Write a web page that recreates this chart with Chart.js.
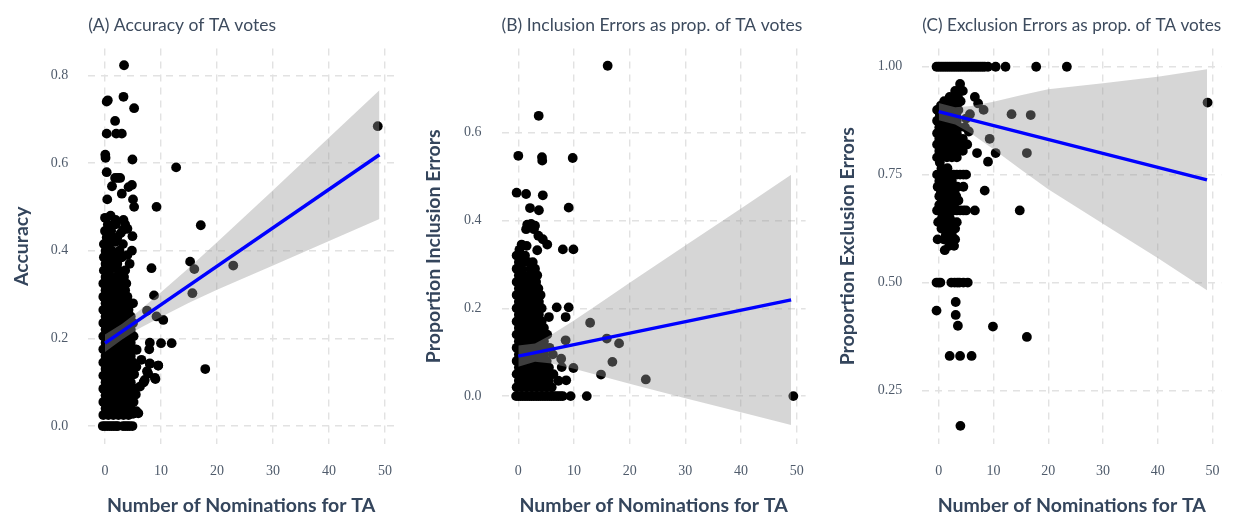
<!DOCTYPE html>
<html>
<head>
<meta charset="utf-8">
<title>TA votes</title>
<script src="https://cdn.jsdelivr.net/npm/chart.js@4.4.1/dist/chart.umd.min.js"></script>
<style>
  html, body { margin: 0; padding: 0; background: #fff; }
  #wrap { position: relative; width: 1239px; height: 518px; }
  .panel { position: absolute; top: 0; width: 413px; height: 518px; }
</style>
</head>
<body>
<div id="wrap">
  <div class="panel" style="left:0px"><canvas id="chartA" width="413" height="518"></canvas></div>
  <div class="panel" style="left:413px"><canvas id="chartB" width="413" height="518"></canvas></div>
  <div class="panel" style="left:826px"><canvas id="chartC" width="413" height="518"></canvas></div>
</div>
<script>
// ticks
const xTicks = [0, 10, 20, 30, 40, 50];
const accuracyTicks = [0, 0.2, 0.4, 0.6, 0.8];
const inclusionTicks = [0, 0.2, 0.4, 0.6];
const exclusionTicks = [0.25, 0.5, 0.75, 1.0];

// fitted lines (lm) and their confidence bands
const fitX = [0, 49];
const accuracyFit = [0.189, 0.619];
const inclusionFit = [0.091, 0.219];
const exclusionFit = [0.896, 0.738];

const bandX = [0, 3, 6, 10, 15, 20, 30, 40, 49];
const accuracyUpper = [0.209, 0.233, 0.262, 0.305, 0.361, 0.419, 0.538, 0.658, 0.766];
const accuracyLower = [0.169, 0.197, 0.222, 0.249, 0.281, 0.311, 0.366, 0.422, 0.472];
const inclusionUpper = [0.115, 0.120, 0.140, 0.172, 0.215, 0.258, 0.343, 0.427, 0.504];
const inclusionLower = [0.067, 0.078, 0.074, 0.062, 0.045, 0.028, -0.005, -0.037, -0.066];
const exclusionUpper = [0.916, 0.906, 0.909, 0.919, 0.934, 0.948, 0.962, 0.977, 0.994];
const exclusionLower = [0.876, 0.866, 0.845, 0.809, 0.762, 0.716, 0.636, 0.557, 0.482];

// points: [nominations (jittered), value]
const accuracyPts = [
  [-0.4,0],[0,0],[0.4,0],[0.8,0],[1.2,0],[1.6,0],[2.0,0],[2.3,0],[3.2,0],[3.6,0],[4.0,0],[4.4,0],[4.9,0],
  [-0.3,0.025],[0.6,0.025],[1.5,0.025],[2.4,0.025],[3.3,0.025],[4.2,0.025],[5.0,0.028],[5.6,0.034],[5.95,0.029],
  [0.1,0.04],[1.0,0.04],[1.9,0.04],[2.8,0.04],[3.7,0.04],[4.6,0.04],
  [-0.3,0.055],[0.6,0.055],[1.5,0.055],[2.4,0.055],[3.3,0.055],[4.2,0.055],[5.1,0.055],
  [0.1,0.07],[1.0,0.07],[1.9,0.07],[2.8,0.07],[3.7,0.07],[4.6,0.07],[5.5,0.072],
  [-0.3,0.085],[0.6,0.085],[1.5,0.085],[2.4,0.085],[3.3,0.085],[4.2,0.085],[5.4,0.085],[6.25,0.09],
  [0.1,0.1],[1.0,0.1],[1.9,0.1],[2.8,0.1],[3.7,0.1],[4.6,0.1],[6.9,0.1],
  [-0.3,0.115],[0.6,0.115],[1.5,0.115],[2.4,0.115],[3.3,0.115],[4.2,0.115],[5.2,0.118],[7.1,0.105],[8.9,0.11],
  [0.1,0.13],[1.0,0.13],[1.9,0.13],[2.8,0.13],[3.7,0.13],[4.6,0.13],[5.6,0.135],[7.7,0.12],[7.5,0.125],
  [-0.3,0.145],[0.6,0.145],[1.5,0.145],[2.4,0.145],[3.3,0.145],[4.2,0.145],[5.0,0.145],[6.5,0.151],[8.0,0.143],[9.5,0.138],[9.0,0.107],
  [0.1,0.16],[1.0,0.16],[1.9,0.16],[2.8,0.16],[3.7,0.16],[4.6,0.16],[5.65,0.174],
  [-0.3,0.175],[0.6,0.175],[1.5,0.175],[2.4,0.175],[3.3,0.175],[4.2,0.175],[5.4,0.175],[7.9,0.175],
  [0.1,0.19],[1.0,0.19],[1.9,0.19],[2.8,0.19],[3.7,0.19],[4.6,0.19],[8.0,0.19],[10.0,0.189],[11.9,0.189],
  [-0.3,0.205],[0.6,0.205],[1.5,0.205],[2.4,0.205],[3.3,0.205],[4.2,0.205],[5.1,0.205],
  [0.1,0.22],[1.0,0.22],[1.9,0.22],[2.8,0.22],[3.7,0.22],[4.6,0.22],
  [-0.3,0.235],[0.6,0.235],[1.5,0.235],[2.4,0.235],[3.3,0.235],[4.2,0.235],[5.0,0.235],
  [0.1,0.25],[1.0,0.25],[1.9,0.25],[2.8,0.25],[3.7,0.25],[4.6,0.25],[9.2,0.25],[10.4,0.242],
  [-0.3,0.265],[0.6,0.265],[1.5,0.265],[2.4,0.265],[3.3,0.265],[4.2,0.265],[7.5,0.263],
  [0.1,0.28],[1.0,0.28],[1.9,0.28],[2.8,0.28],[3.7,0.28],[5.0,0.28],
  [-0.3,0.295],[0.6,0.295],[1.5,0.295],[2.4,0.295],[3.3,0.295],[4.0,0.295],[8.75,0.298],
  [0.1,0.31],[1.0,0.31],[1.9,0.31],[2.8,0.31],[3.6,0.31],
  [-0.3,0.325],[0.6,0.325],[1.5,0.325],[3.0,0.325],[3.8,0.325],[2.3,0.33],
  [0.1,0.34],[1.0,0.34],[2.0,0.34],[3.4,0.34],[0.5,0.35],[1.5,0.36],[3.0,0.35],
  [-0.2,0.355],[0.6,0.355],[2.5,0.355],[3.6,0.355],[8.3,0.36],
  [0.1,0.37],[1.2,0.37],[2.2,0.37],[4.4,0.37],[2.0,0.39],[4.0,0.39],
  [-0.2,0.385],[0.7,0.385],[1.8,0.385],[3.0,0.385],
  [0.1,0.4],[1.2,0.4],[2.6,0.4],[4.8,0.4],[0.5,0.42],[1.8,0.42],
  [-0.2,0.415],[0.6,0.415],[3.2,0.415],
  [0.3,0.43],[1.4,0.43],[2.2,0.43],[4.9,0.433],[2.8,0.44],[4.0,0.45],
  [0.0,0.445],[1.1,0.445],[3.2,0.447],
  [0.5,0.46],[1.9,0.46],[3.6,0.46],[1.0,0.48],[3.3,0.47],
  [0.0,0.475],[1.9,0.47],
  [0.4,0.517],[5.0,0.517],[5.2,0.5],[9.2,0.5],[3.0,0.53],[4.2,0.545],[4.8,0.55],[1.25,0.547],
  [1.8,0.566],[2.3,0.566],[2.7,0.566],[0.3,0.579],[12.7,0.59],[4.9,0.608],[0.05,0.619],[0.1,0.612],
  [0.3,0.667],[2.0,0.667],[3.0,0.667],[1.8,0.696],[5.2,0.725],[0.3,0.74],[0.5,0.743],[3.3,0.751],[3.4,0.823],
  [17.1,0.458],[15.2,0.375],[15.95,0.358],[22.9,0.366],[15.6,0.303],[17.9,0.13],[9.5,0.138],
  [8.0,0.142],[6.9,0.1],[5.4,0.085],[48.7,0.684]
];

const inclusionPts = [
  [-0.4,0],[0,0],[0.4,0],[0.8,0],[1.2,0],[1.6,0],[2.0,0],[2.4,0],[2.8,0],[3.2,0],[3.6,0],[4.0,0],[4.4,0],
  [4.8,0],[5.2,0],[5.6,0],[6.0,0],[6.4,0],[6.8,0],[7.2,0],[7.6,0],[8.0,0],[9.4,0],[12.3,0],[49.4,0],
  [-0.3,0.02],[0.6,0.02],[1.5,0.02],[2.4,0.02],[3.3,0.02],[4.2,0.02],[5.1,0.02],[6.0,0.02],
  [0.1,0.035],[1.0,0.035],[1.9,0.035],[2.8,0.035],[3.7,0.035],[4.6,0.035],[5.5,0.035],[7.2,0.035],[8.6,0.036],
  [-0.3,0.05],[0.6,0.05],[1.5,0.05],[2.4,0.05],[3.3,0.05],[4.2,0.05],[5.1,0.05],[6.3,0.05],
  [0.1,0.065],[1.0,0.065],[1.9,0.065],[2.8,0.065],[3.7,0.065],[4.6,0.065],[5.5,0.065],[7.8,0.066],[9.9,0.064],
  [-0.3,0.08],[0.6,0.08],[1.5,0.08],[2.4,0.08],[3.3,0.08],[4.2,0.08],[5.1,0.08],
  [0.1,0.095],[1.0,0.095],[1.9,0.095],[2.8,0.095],[3.7,0.095],[4.6,0.095],[6.2,0.095],
  [-0.3,0.11],[0.6,0.11],[1.5,0.11],[2.4,0.11],[3.3,0.11],[4.2,0.11],[5.6,0.11],
  [0.1,0.125],[1.0,0.125],[1.9,0.125],[2.8,0.125],[3.7,0.125],[4.6,0.125],
  [-0.3,0.14],[0.6,0.14],[1.5,0.14],[2.4,0.14],[3.3,0.14],[4.2,0.14],[5.2,0.14],
  [0.1,0.155],[1.0,0.155],[1.9,0.155],[2.8,0.155],[3.7,0.155],[4.6,0.155],
  [-0.3,0.17],[0.6,0.17],[1.5,0.17],[2.4,0.17],[3.3,0.17],[4.2,0.17],
  [0.1,0.185],[1.0,0.185],[1.9,0.185],[2.8,0.185],[3.7,0.185],[5.5,0.18],[8.5,0.18],
  [-0.3,0.2],[0.6,0.2],[1.5,0.2],[2.4,0.2],[3.3,0.2],[4.2,0.2],[6.9,0.202],[9.05,0.202],
  [0.1,0.215],[1.0,0.215],[1.9,0.215],[2.8,0.215],[3.7,0.215],
  [-0.3,0.23],[0.6,0.23],[1.5,0.23],[2.4,0.23],[3.3,0.23],[4.0,0.23],
  [0.1,0.245],[1.0,0.245],[1.9,0.245],[2.8,0.245],[3.6,0.245],
  [-0.3,0.26],[0.6,0.26],[1.5,0.26],[2.4,0.26],[3.2,0.26],
  [0.1,0.275],[1.0,0.275],[1.9,0.275],[2.8,0.275],[3.4,0.275],
  [-0.3,0.29],[0.6,0.29],[2.2,0.29],[3.0,0.29],
  [0.1,0.305],[1.0,0.305],[1.8,0.305],[2.6,0.305],
  [-0.3,0.32],[0.4,0.32],[1.2,0.32],
  [0.2,0.333],[3.4,0.332],[8.0,0.334],[9.9,0.334],[0.6,0.345],[1.5,0.342],[5.2,0.345],[4.4,0.357],[3.6,0.365],
  [1.4,0.38],[2.8,0.38],[1.6,0.39],[2.3,0.392],[3.0,0.388],[3.7,0.423],[2.1,0.428],[9.05,0.429],
  [-0.3,0.463],[1.4,0.46],[4.4,0.457],[0,0.547],[4.25,0.544],[4.3,0.536],[9.77,0.542],[3.66,0.638],[16.05,0.752],
  [12.9,0.167],[8.5,0.127],[15.9,0.131],[18.1,0.12],[7.7,0.085],[16.9,0.078],[14.85,0.049],[22.9,0.038]
];

const exclusionPts = [
  [-0.4,1],[0,1],[0.4,1],[0.8,1],[1.2,1],[1.6,1],[2.0,1],[2.4,1],[2.8,1],[3.2,1],[3.6,1],[4.0,1],[4.4,1],
  [4.8,1],[5.2,1],[5.6,1],[6.0,1],[6.4,1],[6.8,1],[7.2,1],[7.6,1],[8.0,1],[8.4,1],[9.0,1],[10.4,1],[12.2,1],[17.8,1],[23.4,1],
  [3.9,0.96],[4.4,0.944],[3.0,0.944],[2.0,0.93],[3.5,0.93],[6.6,0.93],[1.0,0.92],[2.4,0.92],[4.0,0.92],[7.2,0.915],
  [0.4,0.91],[1.6,0.91],[3.0,0.91],
  [-0.3,0.9],[0.8,0.9],[2.0,0.9],[3.6,0.9],[5.7,0.89],[8.2,0.9],
  [0.2,0.889],[1.2,0.889],[2.6,0.889],[3.2,0.889],[5.0,0.88],
  [-0.3,0.875],[0.6,0.875],[1.5,0.875],[2.4,0.875],[3.3,0.875],
  [0.1,0.86],[1.0,0.86],[1.9,0.86],[2.8,0.86],[3.7,0.86],[5.5,0.85],[4.8,0.86],
  [-0.3,0.846],[0.6,0.846],[1.5,0.846],[2.4,0.846],[3.3,0.846],
  [0.1,0.833],[1.0,0.833],[1.9,0.833],[2.8,0.833],[3.7,0.833],[4.4,0.833],
  [-0.3,0.82],[0.6,0.82],[1.5,0.82],[2.4,0.82],[3.3,0.82],[4.0,0.82],[5.2,0.82],
  [0.1,0.805],[1.0,0.805],[1.9,0.805],[2.8,0.805],[3.7,0.805],[4.4,0.805],[7.0,0.8],[10.4,0.8],
  [-0.3,0.79],[0.6,0.79],[1.5,0.79],[2.4,0.79],[3.3,0.79],[9.0,0.78],
  [0.2,0.778],[0.5,0.765],[1.6,0.765],
  [-0.3,0.75],[0.3,0.75],[0.9,0.75],[1.5,0.75],[2.1,0.75],[2.7,0.75],[3.3,0.75],[3.9,0.75],[4.5,0.75],[5.0,0.75],
  [0.1,0.735],[1.2,0.735],[2.4,0.735],
  [-0.2,0.722],[1.0,0.722],[2.2,0.722],[3.4,0.722],[4.5,0.722],[8.4,0.713],
  [0.4,0.71],[1.8,0.71],[2.9,0.71],
  [0.1,0.7],[1.3,0.7],[2.5,0.7],[3.2,0.7],
  [0.6,0.69],[1.9,0.69],[3.6,0.69],
  [0.1,0.68],[1.2,0.68],[2.8,0.68],
  [-0.3,0.667],[0.3,0.667],[0.9,0.667],[1.5,0.667],[2.1,0.667],[2.7,0.667],[3.3,0.667],[3.9,0.667],[4.5,0.667],[5.0,0.667],
  [6.6,0.667],[14.8,0.667],
  [0.6,0.65],[2.0,0.65],
  [-0.1,0.64],[1.1,0.64],[2.6,0.64],[3.3,0.64],
  [0.5,0.625],[1.8,0.625],[3.0,0.625],
  [1.3,0.61],[2.4,0.61],
  [-0.2,0.6],[0.9,0.6],[2.0,0.6],[3.0,0.6],
  [1.9,0.585],[2.8,0.585],[1.1,0.575],
  [-0.4,0.5],[0.0,0.5],[0.3,0.5],[2.3,0.5],[2.9,0.5],[3.4,0.5],[3.8,0.5],[4.5,0.5],[5.3,0.5],
  [-0.4,0.435],[3.1,0.455],[3.1,0.425],[3.5,0.4],[9.9,0.398],[16.1,0.374],[2.0,0.33],[3.9,0.33],[6.0,0.33],[3.96,0.168],
  [49.1,0.917],[13.3,0.89],[16.8,0.888],[9.3,0.833],[16.1,0.8]
];

const gridColor = "#e2e2e2";
const tickColor = "#4f5b6b";
const axisColor = "#34455c";
const titleColor = "#3d4b5e";

function toXY(xs, ys) {
    return xs.map((x, i) => ({x: x, y: ys[i]}));
}

function drawPanel(canvasId, cfg) {
    const ctx = document.getElementById(canvasId).getContext("2d");
    new Chart(ctx, {
        type: "scatter",
        data: {
            datasets: [
                { data: toXY(fitX, cfg.fit), showLine: true, borderColor: "#0000ff", borderWidth: 3.5, pointRadius: 0 },
                { data: toXY(bandX, cfg.upper), showLine: true, borderColor: "rgba(0,0,0,0)", borderWidth: 0,
                  pointRadius: 0, fill: "+1", backgroundColor: "rgba(153,153,153,0.4)" },
                { data: toXY(bandX, cfg.lower), showLine: true, borderColor: "rgba(0,0,0,0)", borderWidth: 0, pointRadius: 0 },
                { data: cfg.points.map(p => ({x: p[0], y: p[1]})), backgroundColor: "#000000",
                  borderWidth: 0, pointRadius: 4.9 }
            ]
        },
        options: {
            responsive: false,
            animation: false,
            events: [],
            layout: { padding: { left: 0, right: cfg.rightPad, top: 0, bottom: 0 } },
            plugins: {
                legend: { display: false },
                tooltip: { enabled: false },
                title: {
                    display: true,
                    text: cfg.title,
                    align: "start",
                    fullSize: false,
                    color: titleColor,
                    font: { family: "Lato", size: 17.5, weight: "normal" },
                    padding: { top: 14.5, bottom: 13.1 }
                }
            },
            scales: {
                x: {
                    type: "linear",
                    min: -3,
                    max: 51.6,
                    afterBuildTicks: s => { s.ticks = xTicks.map(v => ({value: v})); },
                    afterFit: s => { s.height = 74; },
                    grid: { color: gridColor, lineWidth: 1.4, drawTicks: false },
                    border: { display: false, dash: [7, 6] },
                    ticks: { padding: 19, color: tickColor, font: { family: "Liberation Serif", size: 14 } },
                    title: {
                        display: true,
                        text: "Number of Nominations for TA",
                        color: axisColor,
                        font: { family: "Lato", size: 19.5, weight: "bold" },
                        padding: { top: 0, bottom: 0.3 }
                    }
                },
                y: {
                    type: "linear",
                    min: cfg.yMin,
                    max: cfg.yMax,
                    afterBuildTicks: s => { s.ticks = cfg.ticks.map(v => ({value: v})); },
                    afterFit: s => { s.width = cfg.yWidth; },
                    grid: { color: gridColor, lineWidth: 1.4, drawTicks: false },
                    border: { display: false, dash: [7, 6] },
                    ticks: {
                        padding: 20,
                        color: tickColor,
                        font: { family: "Liberation Serif", size: 14 },
                        callback: v => v.toFixed(cfg.decimals)
                    },
                    title: {
                        display: true,
                        text: cfg.yTitle,
                        color: axisColor,
                        font: { family: "Lato", size: 19.5, weight: "bold" },
                        padding: { top: cfg.yTitlePad, bottom: 0 }
                    }
                }
            }
        }
    });
}

drawPanel("chartA", {
    title: "(A) Accuracy of TA votes", yTitle: "Accuracy",
    points: accuracyPts, fit: accuracyFit, upper: accuracyUpper, lower: accuracyLower,
    ticks: accuracyTicks, decimals: 1, yMin: -0.041, yMax: 0.861,
    yWidth: 88.2, rightPad: 19, yTitlePad: 10.2
});
drawPanel("chartB", {
    title: "(B) Inclusion Errors as prop. of TA votes", yTitle: "Proportion Inclusion Errors",
    points: inclusionPts, fit: inclusionFit, upper: inclusionUpper, lower: inclusionLower,
    ticks: inclusionTicks, decimals: 1, yMin: -0.109, yMax: 0.791,
    yWidth: 88.6, rightPad: 20.4, yTitlePad: 8.6
});
drawPanel("chartC", {
    title: "(C) Exclusion Errors as prop. of TA votes", yTitle: "Proportion Exclusion Errors",
    points: exclusionPts, fit: exclusionFit, upper: exclusionUpper, lower: exclusionLower,
    ticks: exclusionTicks, decimals: 2, yMin: 0.126, yMax: 1.042,
    yWidth: 96.3, rightPad: 12.4, yTitlePad: 9.8
});
</script>
</body>
</html>
